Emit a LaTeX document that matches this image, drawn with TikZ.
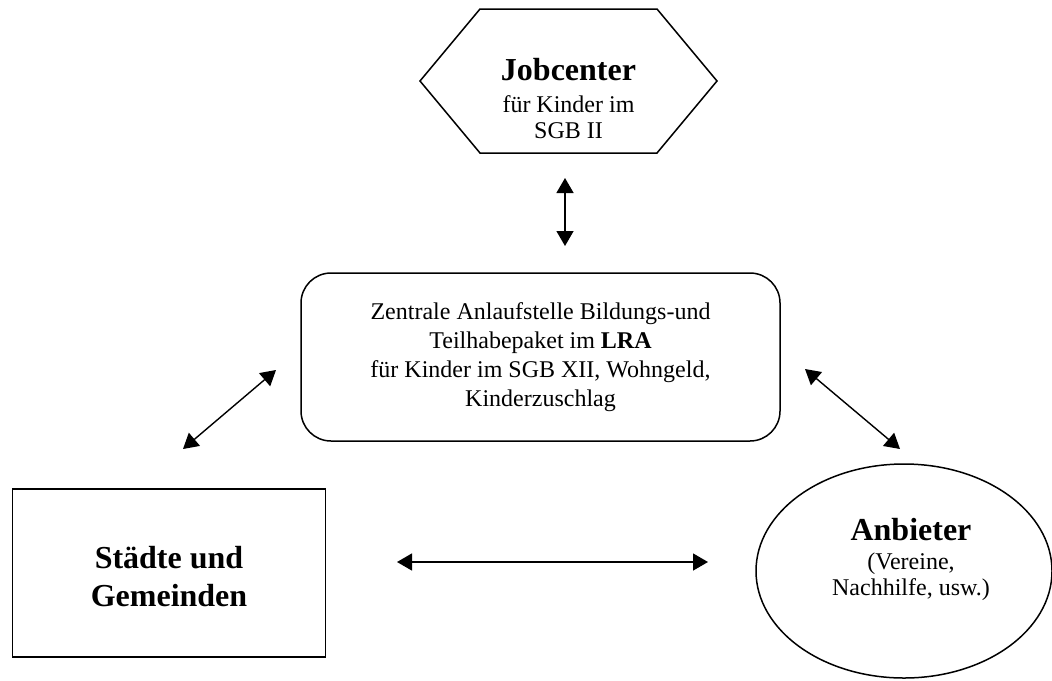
\documentclass[tikz,border=0pt]{standalone}
\usepackage{fontspec}
\setmainfont{Liberation Serif}
\usetikzlibrary{arrows.meta}
\usetikzlibrary{shapes.geometric}

\begin{document}
\begin{tikzpicture}[x=0.5pt,y=-0.5pt,
  box/.style={draw, line width=0.75pt, inner sep=0pt, align=center},
  txt/.style={font=\fontsize{12}{14.5}\selectfont, align=center, inner sep=0pt},
  dbl/.style={line width=0.7pt, {Triangle[length=7.5pt,width=8.5pt]}-{Triangle[length=7.5pt,width=8.5pt]}}]
\useasboundingbox (0,0) rectangle (1052,680);

% Jobcenter
\draw[line width=0.75pt] (420,81) -- (480,9) -- (657,9) -- (717,81) -- (657,153) -- (480,153) -- cycle;
\node[txt, font=\fontsize{12}{13}\selectfont, anchor=north] (job) at (568.5,58)
  {{\fontsize{16}{18}\selectfont\bfseries Jobcenter}\\[3pt] für Kinder im\\ SGB II};

% Anlaufstelle
\node[box, txt, rounded corners=15pt, minimum width=239.5pt, minimum height=84pt] (lra) at (540.5,357)
  {Zentrale Anlaufstelle Bildungs-und\\ Teilhabepaket im \textbf{LRA}\\ für Kinder im SGB XII, Wohngeld,\\ Kinderzuschlag};

% Staedte
\node[box, minimum width=156.5pt, minimum height=84pt] (stadt) at (169,573) {};
\node[txt, font=\fontsize{16}{19}\selectfont\bfseries] (stadtt) at (169,577) {Städte und\\ Gemeinden};

% Anbieter
\node[box, ellipse, minimum width=148pt, minimum height=107pt] (anb) at (904,571) {};
\node[txt, font=\fontsize{12}{13}\selectfont, anchor=north] (anbt) at (911,518)
  {{\fontsize{16}{18}\selectfont\bfseries Anbieter}\\[1.5pt] (Vereine,\\ Nachhilfe, usw.)};

% Pfeile
\coordinate (a1) at (565,178);
\coordinate (a2) at (565,246);
\coordinate (b1) at (183,449);
\coordinate (b2) at (276,370);
\coordinate (c1) at (805,369);
\coordinate (c2) at (900,449);
\coordinate (d1) at (397,562);
\coordinate (d2) at (708,562);
\draw[dbl] (a1) -- (a2);
\draw[dbl] (b1) -- (b2);
\draw[dbl] (c1) -- (c2);
\draw[dbl] (d1) -- (d2);
\end{tikzpicture}
\end{document}
